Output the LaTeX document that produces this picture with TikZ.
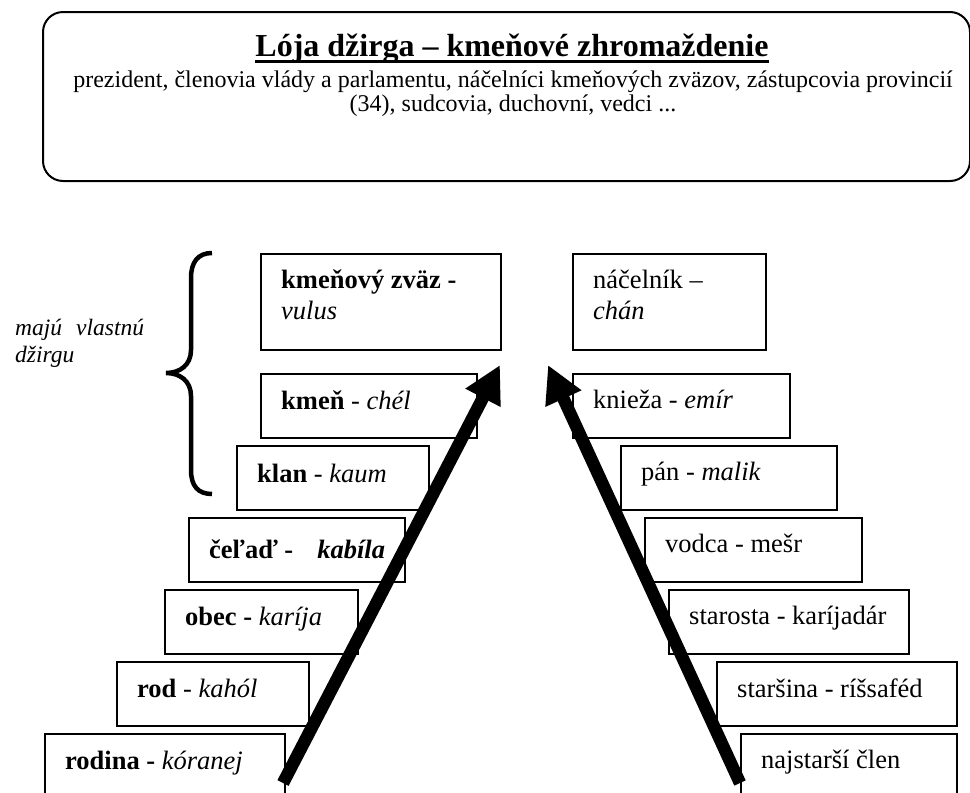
\documentclass[tikz,border=0pt]{standalone}
\usepackage{fontspec}
\setmainfont{Liberation Serif}
\usetikzlibrary{arrows.meta}
\begin{document}
\begin{tikzpicture}[x=1pt,y=-1pt,
  box/.style={draw, line width=1.8pt, fill=white, inner sep=0pt, anchor=north west},
  lbl/.style={anchor=base west, inner sep=0pt, font=\fontsize{26.5}{31}\selectfont},
  bigarrow/.style={line width=12.5pt, -{Triangle[length=37pt,width=37pt]}}]
\useasboundingbox (0,0) rectangle (970,793);
\clip (0,0) rectangle (970,793);

% top rounded box
\node[draw, line width=2pt, rounded corners=20pt, inner sep=0pt, anchor=north west,
      minimum width=927pt, minimum height=169pt] (top) at (42,11) {};
\node[anchor=base, inner sep=0pt, font=\fontsize{32}{37}\selectfont\bfseries] (title) at (512,56)
  {Lója džirga – kmeňové zhromaždenie};
\draw[line width=3pt] ([yshift=-5.5pt]title.base west) -- ([yshift=-5.5pt]title.base east);
\node[anchor=base, inner sep=0pt, font=\fontsize{24}{24}\selectfont] (sub) at (513,87)
  {\parbox[t]{920pt}{\centering prezident, členovia vlády a parlamentu, náčelníci kmeňových zväzov, zástupcovia provincií\\(34), sudcovia, duchovní, vedci ...}};

% left column boxes
\node[box, minimum width=240pt, minimum height=96pt] (l1) at (260,253) {};
\node[box, minimum width=216pt, minimum height=64pt] (l2) at (260,373) {};
\node[box, minimum width=192pt, minimum height=64pt] (l3) at (236,445) {};
\node[box, minimum width=216pt, minimum height=64pt] (l4) at (188,517) {};
\node[box, minimum width=193pt, minimum height=64pt] (l5) at (164,589) {};
\node[box, minimum width=192pt, minimum height=64pt] (l6) at (116,661) {};
\node[box, minimum width=240pt, minimum height=80pt] (l7) at (44,733) {};

% right column boxes
\node[box, minimum width=193pt, minimum height=96pt] (r1) at (572,253) {};
\node[box, minimum width=217pt, minimum height=64pt] (r2) at (572,373) {};
\node[box, minimum width=216pt, minimum height=64pt] (r3) at (620,445) {};
\node[box, minimum width=217pt, minimum height=64pt] (r4) at (644,517) {};
\node[box, minimum width=240pt, minimum height=64pt] (r5) at (668,589) {};
\node[box, minimum width=240pt, minimum height=64pt] (r6) at (716,661) {};
\node[box, minimum width=216pt, minimum height=80pt] (r7) at (740,733) {};

% left texts
\node[lbl] (t1) at (281,288) {\parbox[t]{215pt}{\raggedright\textbf{kmeňový zväz -}\\\textit{vulus}}};
\node[lbl] (t2) at (281,409) {\textbf{kmeň} - \textit{chél}};
\node[lbl] (t3) at (257,482) {\textbf{klan} - \textit{kaum}};
\node[lbl] (t4) at (209,558) {\textbf{čeľaď -}\hspace{24pt}\textbf{\textit{kabíla}}};
\node[lbl] (t5) at (185,625) {\textbf{obec -} \textit{karíja}};
\node[lbl] (t6) at (137,697) {\textbf{rod} - \textit{kahól}};
\node[lbl] (t7) at (65,769) {\textbf{rodina -} \textit{kóranej}};

% right texts
\node[lbl] (u1) at (593,288) {\parbox[t]{170pt}{\raggedright náčelník –\\\textit{chán}}};
\node[lbl] (u2) at (593,408) {knieža - \textit{emír}};
\node[lbl] (u3) at (641,480) {pán - \textit{malik}};
\node[lbl] (u4) at (665,552) {vodca - mešr};
\node[lbl] (u5) at (689,624) {starosta - karíjadár};
\node[lbl] (u6) at (737,697) {staršina - ríšsaféd};
\node[lbl] (u7) at (761,768) {najstarší člen};

% brace and its label
\draw[line width=4.5pt] (212,253) .. controls (198,253) and (191,262) .. (191,278)
  -- (191,350) .. controls (191,365) and (180,373) .. (166,373)
  .. controls (180,373) and (191,381) .. (191,396)
  -- (191,470) .. controls (191,486) and (198,494) .. (212,494);
\node[anchor=base west, inner sep=0pt, font=\fontsize{23.5}{27}\selectfont\itshape] (brl) at (15,335)
  {\parbox[t]{140pt}{\raggedright majú\hspace{14pt}vlastnú\\džirgu}};

% arrows
\coordinate (la) at (283,783);
\coordinate (lb) at (500,365);
\coordinate (ra) at (740,783);
\coordinate (rb) at (548,365);
\draw[bigarrow] (la) -- (lb);
\draw[bigarrow] (ra) -- (rb);
\end{tikzpicture}
\end{document}
